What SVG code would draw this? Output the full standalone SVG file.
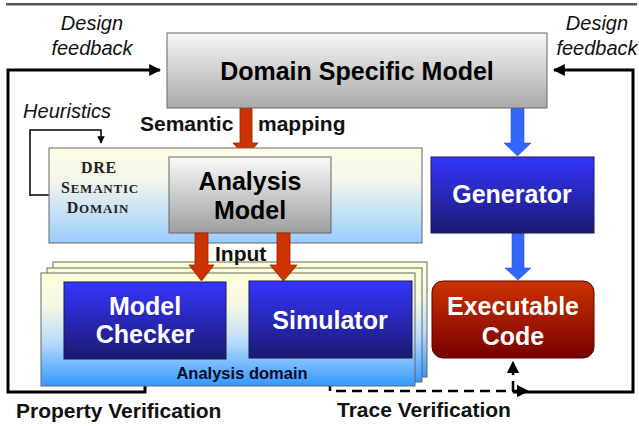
<svg xmlns="http://www.w3.org/2000/svg" width="639" height="426" viewBox="0 0 639 426">
<defs>
<linearGradient id="gGray" x1="0" y1="0" x2="0" y2="1"><stop offset="0" stop-color="#f7f7f7"/><stop offset="1" stop-color="#a9a9a9"/></linearGradient>
<linearGradient id="gGray2" x1="0" y1="0" x2="0" y2="1"><stop offset="0" stop-color="#fafafa"/><stop offset="1" stop-color="#9e9e9e"/></linearGradient>
<linearGradient id="gBlue" x1="0" y1="0" x2="0" y2="1"><stop offset="0" stop-color="#3535ff"/><stop offset="1" stop-color="#1a1a70"/></linearGradient>
<linearGradient id="gRed" x1="0" y1="0" x2="0" y2="1"><stop offset="0" stop-color="#cc3300"/><stop offset="1" stop-color="#780000"/></linearGradient>
<linearGradient id="gDre" x1="0" y1="0" x2="0" y2="1"><stop offset="0" stop-color="#fffde4"/><stop offset="0.35" stop-color="#f2f6ec"/><stop offset="1" stop-color="#99ccff"/></linearGradient>
<linearGradient id="gStack" x1="0" y1="0" x2="0" y2="1"><stop offset="0" stop-color="#ffffd8"/><stop offset="0.3" stop-color="#f4f7e4"/><stop offset="0.6" stop-color="#bcdcfb"/><stop offset="1" stop-color="#3399ff"/></linearGradient>
<marker id="ah" viewBox="0 0 10 10" refX="9" refY="5" markerWidth="4" markerHeight="4" orient="auto"><path d="M0,0 L10,5 L0,10 z" fill="#000"/></marker>
<marker id="ahs" viewBox="0 0 10 10" refX="9" refY="5" markerWidth="5" markerHeight="5" orient="auto"><path d="M0,0 L10,5 L0,10 z" fill="#000"/></marker>
</defs>
<style>
.box{stroke:#666;stroke-width:1}
.bl{stroke:#1a1a50;stroke-width:1}
.t{font-family:"Liberation Sans",Arial,sans-serif;font-weight:bold;text-anchor:middle}
.w{fill:#fff}
.it{font-family:"Liberation Sans",Arial,sans-serif;font-style:italic;font-size:20px;text-anchor:middle;fill:#111}
.lbl{font-family:"Liberation Sans",Arial,sans-serif;font-weight:bold;font-size:21px;fill:#111}
.ra{fill:#cc3300;stroke:#992200;stroke-width:0.8}
.ba{fill:#3366ff;stroke:#2a55dd;stroke-width:0.6}
.fb{fill:none;stroke:#000;stroke-width:3}
.dre{font-family:"Liberation Serif","Times New Roman",serif;font-weight:bold;font-size:16px;text-anchor:middle;fill:#222;letter-spacing:0.8px}
</style>
<line x1="6" y1="4" x2="637" y2="4" stroke="#555" stroke-width="2"/>
<line x1="6" y1="5.5" x2="637" y2="5.5" stroke="#aaa" stroke-width="1"/>

<g id="connectors">
<path class="fb" d="M145,359 V392 H8 V70 H160" marker-end="url(#ah)"/>
<path class="fb" d="M513,392 H633 V70 H554" marker-end="url(#ah)"/>
<path d="M30,195 H49 M30,196 V130 H101 V143" fill="none" stroke="#000" stroke-width="1.5" marker-end="url(#ahs)"/>
<path d="M330,378 V362" stroke="#000" stroke-width="2.5" fill="none" marker-end="url(#ahs)"/>
<path d="M330,381 V391 H528" stroke="#000" stroke-width="2.5" fill="none" stroke-dasharray="10,6" marker-end="url(#ahs)"/>
<path d="M513,391 V362" stroke="#000" stroke-width="2.5" fill="none" stroke-dasharray="10,6" marker-end="url(#ahs)"/>
<path class="ra" d="M240,108 H252 V143 H258 L245.5,157 L233,143 H240 Z"/>
<path class="ba" d="M511,108 H524 V143 H531 L517.5,156 L504,143 H511 Z"/>
<path class="ba" d="M512,233 H524 V268 H531 L518,280 L505,268 H512 Z"/>
</g>

<g id="dsm">
<rect class="box" x="167" y="33" width="380" height="75" fill="url(#gGray)"/>
<text class="t" x="357" y="80" font-size="25">Domain Specific Model</text>
</g>
<text class="it" x="92" y="30">Design</text>
<text class="it" x="92" y="55">feedback</text>
<text class="it" x="597" y="30">Design</text>
<text class="it" x="597" y="55">feedback</text>
<text class="it" x="67" y="118">Heuristics</text>
<text class="lbl" x="140" y="131">Semantic</text>
<text class="lbl" x="258" y="131">mapping</text>

<g id="dre-domain">
<rect class="box" x="49" y="148" width="373" height="95" fill="url(#gDre)"/>
<text class="dre" x="99" y="173">DRE</text>
<text class="dre" x="100" y="193">S<tspan font-size="13">EMANTIC</tspan></text>
<text class="dre" x="98" y="213">D<tspan font-size="13">OMAIN</tspan></text>
</g>
<g id="analysis-model">
<rect class="box" x="169" y="157" width="162" height="76" fill="url(#gGray2)"/>
<text class="t" x="250" y="190" font-size="25">Analysis</text>
<text class="t" x="250" y="219" font-size="25">Model</text>
</g>

<g id="generator">
<rect class="bl" x="431" y="157" width="163" height="76" fill="url(#gBlue)"/>
<text class="t w" x="512" y="203" font-size="25">Generator</text>
</g>

<g id="analysis-domain">
<rect class="box" x="53" y="262" width="374" height="115" fill="url(#gStack)"/>
<rect class="box" x="47" y="268" width="375" height="114" fill="url(#gStack)"/>
<rect class="box" x="41" y="273" width="374" height="113" fill="url(#gStack)"/>
<text class="t" x="242" y="379" font-size="16.5" fill="#0a0a2a">Analysis domain</text>
</g>
<text class="lbl" x="215" y="261">Input</text>
<g id="input-arrows">
<path class="ra" d="M195,233 H208 V265 H214 L201.5,281 L189,265 H195 Z"/>
<path class="ra" d="M277,233 H290 V265 H297 L283.5,281 L270,265 H277 Z"/>
</g>

<g id="model-checker">
<rect class="bl" x="64" y="282" width="162" height="77" fill="url(#gBlue)"/>
<text class="t w" x="145" y="315" font-size="25">Model</text>
<text class="t w" x="145" y="343" font-size="25">Checker</text>
</g>
<g id="simulator">
<rect class="bl" x="249" y="281" width="163" height="77" fill="url(#gBlue)"/>
<text class="t w" x="330" y="329" font-size="25">Simulator</text>
</g>
<g id="executable-code">
<rect x="432" y="281" width="162" height="77" rx="11" fill="url(#gRed)" stroke="#5a0000" stroke-width="1"/>
<text class="t w" x="513" y="315" font-size="25">Executable</text>
<text class="t w" x="513" y="345" font-size="25">Code</text>
</g>

<text class="lbl" x="16" y="418">Property Verification</text>
<text class="lbl" x="337" y="417">Trace Verification</text>
</svg>
